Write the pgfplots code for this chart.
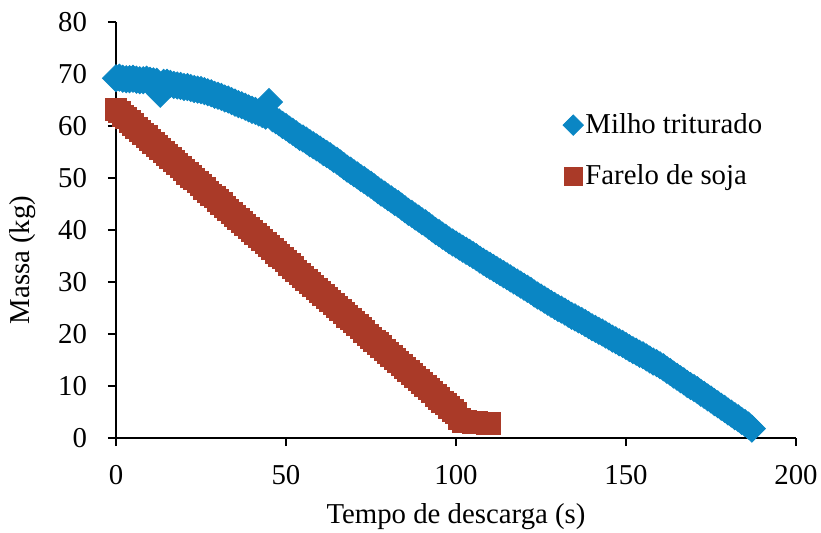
\documentclass[border=0pt]{standalone}
\usepackage{fontspec}
\setmainfont{Liberation Serif}
\usepackage{pgfplots}
\pgfplotsset{compat=1.18}
\definecolor{milho}{RGB}{10,134,196}
\definecolor{soja}{RGB}{170,58,40}
\begin{document}
\begin{tikzpicture}
\useasboundingbox (-58pt,-47pt) rectangle (352.5pt,219pt);
\begin{axis}[
  scale only axis,
  width=340pt, height=208pt,
  xmin=0, xmax=200, ymin=0, ymax=80,
  xtick={0,50,100,150,200},
  ytick={0,10,20,30,40,50,60,70,80},
  axis x line=bottom, axis y line=left,
  axis line style={-, line width=1pt, black},
  tick style={line width=1pt, black},
  tick align=outside,
  major tick length=4pt,
  /pgf/number format/assume math mode=true,
  tick label style={font=\fontsize{14.4}{17}\selectfont},
  label style={font=\fontsize{14.4}{17}\selectfont},
  xticklabel style={yshift=-6pt},
  yticklabel style={xshift=-7pt},
  xlabel={Tempo de descarga (s)},
  ylabel={Massa (kg)},
  xlabel style={at={(axis description cs:0.5,-0.19)}, anchor=center},
  ylabel style={at={(axis description cs:-0.138,0.428)}, anchor=center},
  legend style={draw=none, fill=none, at={(0.648,0.795)}, anchor=north west,
    font=\fontsize{14.4}{17}\selectfont, row sep=12pt,
    nodes={inner sep=1pt}},
  legend cell align=left,
  clip=false,
]
\addplot[only marks, mark=square*, color=milho, mark size=4.8pt,
  mark options={rotate=45, draw=milho, fill=milho},
  legend image post style={mark size=3.6pt}] coordinates {
(0,69.2)(1,69.3)(2,69.1)(3,69.0)(4,69.0)(5,69.1)(6,68.9)(7,68.8)(8,68.8)(9,68.9)
(10,68.7)(11,68.6)(12,68.5)(13,66.2)(14,68.3)(15,68.3)(16,68.1)(17,67.9)(18,67.8)
(19,67.7)(20,67.5)(21,67.5)(22,67.3)(23,67.1)(24,67.0)(25,66.9)(26,66.7)(27,66.5)
(28,66.3)(29,66.0)(30,65.8)(31,65.6)(32,65.3)(33,65.1)(34,64.8)(35,64.5)(36,64.2)
(37,64.0)(38,63.7)(39,63.4)(40,63.1)(41,62.9)(42,62.6)(43,62.3)(44,62.0)(45,64.6)
(46,61.5)(47,61.1)(48,60.7)(49,60.2)(50,59.8)(51,59.3)(52,58.9)(53,58.4)(54,57.9)
(55,57.6)(56,57.2)(57,56.7)(58,56.3)(59,55.9)(60,55.5)(61,55.0)(62,54.6)(63,54.2)
(64,53.7)(65,53.3)(66,52.8)(67,52.3)(68,51.8)(69,51.4)(70,50.9)(71,50.5)(72,50.0)
(73,49.6)(74,49.1)(75,48.7)(76,48.2)(77,47.7)(78,47.2)(79,46.8)(80,46.3)(81,45.9)
(82,45.4)(83,45.0)(84,44.5)(85,44.0)(86,43.5)(87,43.1)(88,42.6)(89,42.2)(90,41.7)
(91,41.3)(92,40.8)(93,40.3)(94,39.8)(95,39.4)(96,38.9)(97,38.5)(98,38.0)(99,37.6)
(100,37.2)(101,36.8)(102,36.4)(103,36.0)(104,35.6)(105,35.2)(106,34.8)(107,34.3)
(108,33.9)(109,33.5)(110,33.1)(111,32.7)(112,32.3)(113,31.9)(114,31.5)(115,31.1)
(116,30.7)(117,30.3)(118,29.9)(119,29.5)(120,29.1)(121,28.7)(122,28.3)(123,27.8)
(124,27.4)(125,27.0)(126,26.6)(127,26.2)(128,25.8)(129,25.4)(130,25.0)(131,24.7)
(132,24.3)(133,23.9)(134,23.5)(135,23.2)(136,22.8)(137,22.5)(138,22.1)(139,21.7)
(140,21.3)(141,21.0)(142,20.6)(143,20.3)(144,19.9)(145,19.5)(146,19.1)(147,18.8)
(148,18.4)(149,18.1)(150,17.7)(151,17.3)(152,16.9)(153,16.6)(154,16.2)(155,15.9)
(156,15.5)(157,15.1)(158,14.7)(159,14.4)(160,14.0)(161,13.6)(162,13.1)(163,12.7)
(164,12.2)(165,11.8)(166,11.3)(167,10.9)(168,10.4)(169,10.0)(170,9.6)(171,9.2)
(172,8.7)(173,8.3)(174,7.8)(175,7.4)(176,6.9)(177,6.5)(178,6.0)(179,5.6)(180,5.1)
(181,4.7)(182,4.2)(183,3.8)(184,3.3)(185,2.9)(186,2.4)(187,1.8)
};
\addlegendentry{Milho triturado}
\addplot[only marks, mark=square*, color=soja, mark size=5.3pt,
  mark options={draw=soja, fill=soja},
  legend image post style={mark size=4.5pt}] coordinates {
(0,63.2)(1,62.7)(2,62.0)(3,61.5)(4,60.9)(5,60.3)(6,59.7)(7,59.1)(8,58.5)(9,58.0)
(10,57.4)(11,56.8)(12,56.2)(13,55.6)(14,55.0)(15,54.4)(16,53.8)(17,53.3)(18,52.7)
(19,52.1)(20,51.5)(21,50.9)(22,50.3)(23,49.8)(24,49.2)(25,48.6)(26,48.0)(27,47.4)
(28,46.8)(29,46.3)(30,45.7)(31,45.1)(32,44.5)(33,43.9)(34,43.3)(35,42.7)(36,42.1)
(37,41.6)(38,41.0)(39,40.4)(40,39.8)(41,39.2)(42,38.6)(43,38.1)(44,37.5)(45,36.9)
(46,36.3)(47,35.7)(48,35.1)(49,34.6)(50,34.0)(51,33.4)(52,32.8)(53,32.2)(54,31.6)
(55,31.0)(56,30.4)(57,29.9)(58,29.3)(59,28.7)(60,28.1)(61,27.5)(62,26.9)(63,26.4)
(64,25.8)(65,25.2)(66,24.6)(67,24.0)(68,23.4)(69,22.9)(70,22.3)(71,21.7)(72,21.1)
(73,20.5)(74,19.9)(75,19.3)(76,18.7)(77,18.2)(78,17.6)(79,17.0)(80,16.4)(81,15.8)
(82,15.2)(83,14.7)(84,14.1)(85,13.5)(86,12.9)(87,12.3)(88,11.7)(89,11.2)(90,10.6)
(91,10.0)(92,9.4)(93,8.8)(94,8.2)(95,7.6)(96,7.0)(97,6.5)(98,5.9)(99,5.3)
(100,4.8)(101,3.6)(102,3.2)(103,3.2)(104,3.1)(105,3.0)(106,3.0)(107,2.9)(108,2.9)
(109,2.8)(110,2.8)
};
\addlegendentry{Farelo de soja}
\end{axis}
\end{tikzpicture}
\end{document}
